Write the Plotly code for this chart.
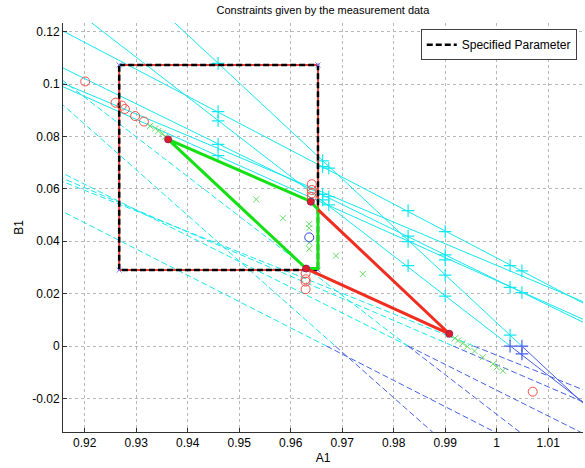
import plotly.graph_objects as go

# ---- constraint lines (A1, B1 endpoints) ----
solid_a1_start = [0.91, 0.91, 0.91, 0.91, 0.91, 0.91]
solid_b1_start = [0.1737, 0.1262, 0.1406, 0.1117, 0.1041, 0.1051]
solid_a1_end = [1.02, 1.02, 1.02, 1.02, 1.02, 1.02]
solid_b1_end = [-0.0277, 0.0131, -0.0263, 0.0060, 0.0074, 0.0143]

dashed_a1_start = [0.91, 0.91, 0.91, 0.91, 0.91, 0.91]
dashed_b1_start = [0.1021, 0.1101, 0.0571, 0.0716, 0.0689, 0.0673]
dashed_a1_end = [1.02, 1.02, 1.02, 1.02, 1.02, 1.02]
dashed_b1_end = [-0.0893, -0.0563, -0.0532, -0.0365, -0.0240, -0.0192]

# ---- measurement crossings on the constraint lines ----
cross_a1 = [0.9459, 0.9459, 0.9459, 0.9459, 0.9459,
            0.9662, 0.9662, 0.9674, 0.9662, 0.9662, 0.9674, 0.9674,
            0.9828, 0.9828, 0.9828, 0.9828,
            0.9900, 0.9900, 0.9900, 0.9900, 0.9900,
            1.0026, 1.0026, 1.0026, 1.0049, 1.0049]
cross_b1 = [0.1079, 0.0895, 0.0860, 0.0770, 0.0727,
            0.0707, 0.0685, 0.0679, 0.0579, 0.0558, 0.0570, 0.0539,
            0.0517, 0.0420, 0.0399, 0.0307,
            0.0437, 0.0348, 0.0329, 0.0271, 0.0191,
            0.0307, 0.0224, 0.0042, 0.0287, 0.0204]
cross_neg_a1 = [1.0026, 1.0049, 1.0049]
cross_neg_b1 = [0.0000, 0.0000, -0.0030]

# ---- specified parameter box ----
spec_a1 = [0.9267, 0.9653]
spec_b1 = [0.0290, 0.1073]

# ---- feasible regions ----
green_a1 = [0.9362, 0.9639, 0.9653, 0.9653, 0.9630, 0.9362]
green_b1 = [0.0789, 0.0552, 0.0521, 0.0296, 0.0296, 0.0789]
red_a1 = [0.9653, 0.9908, 0.9630]
red_b1 = [0.0521, 0.0047, 0.0296]
vertex_a1 = [0.9362, 0.9639, 0.9630, 0.9908]
vertex_b1 = [0.0789, 0.0551, 0.0296, 0.0047]

# ---- estimates ----
circ_a1 = [0.9201, 0.9260, 0.9272, 0.9278, 0.9298, 0.9315,
           0.9641, 0.9641, 0.9641, 0.9641,
           0.9629, 0.9629, 0.9629, 0.9629, 1.0070]
circ_b1 = [0.1010, 0.0929, 0.0918, 0.0905, 0.0878, 0.0857,
           0.0618, 0.0596, 0.0583, 0.0570,
           0.0278, 0.0255, 0.0246, 0.0217, -0.0174]
nominal_a1 = [0.9636]
nominal_b1 = [0.0415]

samp_a1 = [0.9327, 0.9337, 0.9343, 0.9351, 0.9356,
           0.9533, 0.9585, 0.9636, 0.9636, 0.9636, 0.9636, 0.9688, 0.9740,
           0.9909, 0.9919, 0.9925, 0.9934, 0.9943, 0.9957, 0.9973, 0.9993,
           1.0000, 1.0012]
samp_b1 = [0.0840, 0.0831, 0.0821, 0.0812, 0.0799,
           0.0560, 0.0488, 0.0466, 0.0450, 0.0395, 0.0371, 0.0345, 0.0275,
           0.0042, 0.0030, 0.0021, 0.0011, -0.0002, -0.0019, -0.0043, -0.0068,
           -0.0081, -0.0094]

x_ticks = [0.92, 0.93, 0.94, 0.95, 0.96, 0.97, 0.98, 0.99, 1.00, 1.01]
x_labels = ["0.92", "0.93", "0.94", "0.95", "0.96", "0.97", "0.98", "0.99", "1", "1.01"]
y_ticks = [0.12, 0.10, 0.08, 0.06, 0.04, 0.02, 0.0, -0.02]
y_labels = ["0.12", "0.1", "0.08", "0.06", "0.04", "0.02", "0", "-0.02"]

CYAN = "rgb(20,232,240)"
BLUE = "rgb(70,95,235)"
FONT = "Liberation Sans, Arial"


def split_at_zero(xs0, ys0, xs1, ys1):
    """Return (positive, negative) polylines separated by None gaps."""
    pos_x, pos_y, neg_x, neg_y = [], [], [], []
    for x0, y0, x1, y1 in zip(xs0, ys0, xs1, ys1):
        if y0 >= 0 and y1 >= 0:
            pos_x += [x0, x1, None]; pos_y += [y0, y1, None]
        elif y0 <= 0 and y1 <= 0:
            neg_x += [x0, x1, None]; neg_y += [y0, y1, None]
        else:
            xz = x0 + (0 - y0) * (x1 - x0) / (y1 - y0)
            if y0 > 0:
                pos_x += [x0, xz, None]; pos_y += [y0, 0, None]
                neg_x += [xz, x1, None]; neg_y += [0, y1, None]
            else:
                neg_x += [x0, xz, None]; neg_y += [y0, 0, None]
                pos_x += [xz, x1, None]; pos_y += [0, y1, None]
    return pos_x, pos_y, neg_x, neg_y


def stroke_marker(symbol, size, color, width=1.0):
    return dict(symbol=symbol, size=size, color=color, line=dict(color=color, width=width))


fig = go.Figure()

for xs0, ys0, xs1, ys1, dash in [
    (dashed_a1_start, dashed_b1_start, dashed_a1_end, dashed_b1_end, "6px,3px"),
    (solid_a1_start, solid_b1_start, solid_a1_end, solid_b1_end, "solid"),
]:
    px, py, nx, ny = split_at_zero(xs0, ys0, xs1, ys1)
    fig.add_trace(go.Scatter(x=px, y=py, mode="lines", showlegend=False,
                             line=dict(color=CYAN, width=1, dash=dash), hoverinfo="skip"))
    fig.add_trace(go.Scatter(x=nx, y=ny, mode="lines", showlegend=False,
                             line=dict(color=BLUE, width=1, dash=dash), hoverinfo="skip"))

fig.add_trace(go.Scatter(x=cross_a1, y=cross_b1, mode="markers", showlegend=False,
                         marker=stroke_marker("cross-thin", 9, CYAN, 1.2)))
fig.add_trace(go.Scatter(x=cross_neg_a1, y=cross_neg_b1, mode="markers", showlegend=False,
                         marker=stroke_marker("cross-thin", 9, BLUE, 1.2)))

# specified parameter rectangle: red underlay with black dashes on top
box_x = [spec_a1[0], spec_a1[1], spec_a1[1], spec_a1[0], spec_a1[0]]
box_y = [spec_b1[1], spec_b1[1], spec_b1[0], spec_b1[0], spec_b1[1]]
fig.add_trace(go.Scatter(x=box_x, y=box_y, mode="lines", showlegend=False,
                         line=dict(color="rgb(240,60,50)", width=2)))
fig.add_trace(go.Scatter(x=box_x, y=box_y, mode="lines", name="Specified Parameter",
                         line=dict(color="black", width=2.5, dash="6px,3px")))
fig.add_trace(go.Scatter(x=box_x[:4], y=box_y[:4], mode="markers", showlegend=False,
                         marker=stroke_marker("x-thin", 5, "rgb(120,120,255)")))

fig.add_trace(go.Scatter(x=green_a1, y=green_b1, mode="lines", showlegend=False,
                         line=dict(color="rgb(20,225,20)", width=3)))
fig.add_trace(go.Scatter(x=red_a1, y=red_b1, mode="lines", showlegend=False,
                         line=dict(color="rgb(240,45,30)", width=3)))

fig.add_trace(go.Scatter(x=samp_a1, y=samp_b1, mode="markers", showlegend=False,
                         marker=stroke_marker("x-thin", 6, "rgb(100,220,100)")))
fig.add_trace(go.Scatter(x=circ_a1, y=circ_b1, mode="markers", showlegend=False,
                         marker=stroke_marker("circle-open", 9, "rgb(245,80,70)")))
fig.add_trace(go.Scatter(x=nominal_a1, y=nominal_b1, mode="markers", showlegend=False,
                         marker=stroke_marker("circle-open", 9, "rgb(50,70,230)")))
fig.add_trace(go.Scatter(x=vertex_a1, y=vertex_b1, mode="markers", showlegend=False,
                         marker=dict(symbol="circle", size=7, color="rgb(220,30,40)",
                                     line=dict(color="rgb(160,30,90)", width=1))))

axis_common = dict(
    showline=True, linecolor="#303030", linewidth=1,
    ticks="inside", ticklen=4, tickcolor="#303030",
    showgrid=True, gridcolor="#b8b8b8", griddash="dot", gridwidth=1,
    zeroline=False, mirror=False,
    tickfont=dict(family=FONT, size=12, color="black"),
)

fig.update_layout(
    width=585, height=468,
    margin=dict(l=63, r=2, t=23, b=36),
    paper_bgcolor="white", plot_bgcolor="white",
    title=dict(text="Constraints given by the measurement data", x=0.552, xanchor="center",
               y=0.979, yanchor="middle",
               font=dict(family=FONT, size=11, color="black")),
    xaxis=dict(range=[0.91579, 1.01676], tickvals=x_ticks, ticktext=x_labels,
               title=dict(text="A1", standoff=4, font=dict(family=FONT, size=12, color="black")),
               **axis_common),
    yaxis=dict(range=[-0.03279, 0.12332], tickvals=y_ticks, ticktext=y_labels,
               title=dict(text="B1", standoff=6, font=dict(family=FONT, size=12, color="black")),
               **axis_common),
    legend=dict(x=0.988, y=0.985, xanchor="right", yanchor="top",
                bgcolor="white", bordercolor="#404040", borderwidth=1,
                font=dict(family=FONT, size=12, color="black"),
                itemwidth=30, tracegroupgap=0),
)

fig.write_html("out.html")
